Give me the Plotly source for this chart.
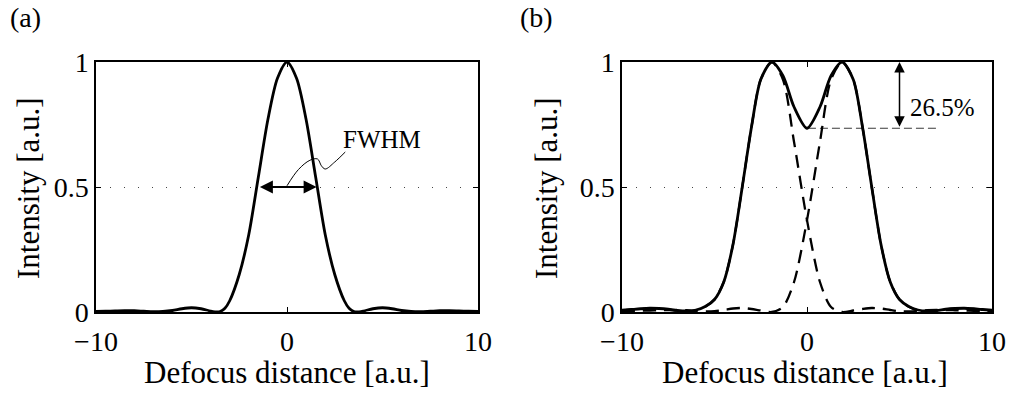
import plotly.graph_objects as go

# ---- (a) single focus: intensity vs defocus ----
PSF_X = [-10, -9.5, -9, -8.5, -8, -7.5, -7, -6.5, -6, -5.5, -5, -4.5, -4, -3.65, -3.5, -3.25,
         -3, -2.5, -2, -1.5, -1, -0.5, 0, 0.5, 1, 1.5, 2, 2.5, 3, 3.25, 3.5, 3.65,
         4, 4.5, 5, 5.5, 6, 6.5, 7, 7.5, 8, 8.5, 9, 9.5, 10]
PSF_Y = [0.002, 0.003, 0.004, 0.005, 0.005, 0.003, 0.001, 0.002, 0.006, 0.013, 0.017, 0.013, 0.004, 0.0, 0.002, 0.015,
         0.045, 0.15, 0.31, 0.54, 0.77, 0.935, 1.0, 0.935, 0.77, 0.54, 0.31, 0.15, 0.045, 0.015, 0.002, 0.0,
         0.004, 0.013, 0.017, 0.013, 0.006, 0.002, 0.001, 0.003, 0.005, 0.005, 0.004, 0.003, 0.002]

# FWHM marker (half-maximum crossing points) and leader line to its label
HALF_MAX = 0.5
FWHM_LEFT, FWHM_RIGHT = -1.5, 1.55
LEADER_X = [0.0, 0.6, 1.2, 1.6, 1.8, 2.0, 2.5, 3.05]
LEADER_Y = [0.505, 0.57, 0.607, 0.612, 0.585, 0.572, 0.6, 0.64]

# ---- (b) two foci: sum (solid) and individual contributions (dashed) ----
R_X = [-10, -9.5, -9, -8.5, -8, -7.5, -7, -6.5, -6, -5.5, -5, -4.5, -4, -3.5, -3, -2.5,
       -1.9, -1.3, -0.7, 0, 0.7, 1.3, 1.9, 2.5, 3, 3.5, 4, 4.5, 5, 5.5, 6, 6.5, 7,
       7.5, 8, 8.5, 9, 9.5, 10]
SUM_Y = [0.007, 0.010, 0.013, 0.015, 0.014, 0.011, 0.006, 0.004, 0.008, 0.022, 0.05, 0.12, 0.27, 0.50, 0.74, 0.93,
         1.0, 0.945, 0.82, 0.735, 0.82, 0.945, 1.0, 0.93, 0.74, 0.50, 0.27, 0.12, 0.05, 0.022, 0.008, 0.004, 0.006,
         0.011, 0.014, 0.015, 0.013, 0.010, 0.007]
LEFT_FOCUS_Y = [0.006, 0.009, 0.012, 0.014, 0.013, 0.010, 0.005, 0.003, 0.007, 0.021, 0.05, 0.12, 0.27, 0.50, 0.74, 0.93,
                1.0, 0.93, 0.68, 0.3675, 0.12, 0.02, 0.0, 0.006, 0.012, 0.016, 0.014, 0.008, 0.003, 0.002, 0.004, 0.007, 0.008,
                0.008, 0.007, 0.006, 0.005, 0.004, 0.003]
RIGHT_FOCUS_Y = [0.003, 0.004, 0.005, 0.006, 0.007, 0.008, 0.008, 0.007, 0.004, 0.002, 0.003, 0.008, 0.014, 0.016, 0.012, 0.006,
                 0.0, 0.02, 0.12, 0.3675, 0.68, 0.93, 1.0, 0.93, 0.74, 0.50, 0.27, 0.12, 0.05, 0.021, 0.007, 0.003, 0.005,
                 0.010, 0.013, 0.014, 0.012, 0.009, 0.006]

DIP_PERCENT = 26.5
DIP_LEVEL = 1 - DIP_PERCENT / 100
DIP_LINE_X = [0.05, 7.0]
DIP_ARROW_X = 5.0

FONT = "Liberation Serif"
W, H = 1010, 396


def px_x(p):
    return p / W


def px_y(p):
    return 1 - p / H


fig = go.Figure()

# panel (a)
fig.add_trace(go.Scatter(x=PSF_X, y=PSF_Y, mode="lines", line=dict(color="black", width=2.8, shape="spline", smoothing=0.8),
                         xaxis="x", yaxis="y", showlegend=False, hoverinfo="skip"))
fig.add_trace(go.Scatter(x=LEADER_X, y=LEADER_Y, mode="lines", line=dict(color="black", width=1, shape="spline"),
                         xaxis="x", yaxis="y", showlegend=False, hoverinfo="skip"))

# panel (b)
fig.add_trace(go.Scatter(x=DIP_LINE_X, y=[DIP_LEVEL, DIP_LEVEL], mode="lines",
                         line=dict(color="#3a3a3a", width=1.2, dash="8px,4px"),
                         xaxis="x2", yaxis="y2", showlegend=False, hoverinfo="skip"))
for ys in (LEFT_FOCUS_Y, RIGHT_FOCUS_Y):
    fig.add_trace(go.Scatter(x=R_X, y=ys, mode="lines",
                             line=dict(color="black", width=2.3, dash="13px,8px", shape="spline", smoothing=0.8),
                             xaxis="x2", yaxis="y2", showlegend=False, hoverinfo="skip"))
fig.add_trace(go.Scatter(x=R_X, y=SUM_Y, mode="lines", line=dict(color="black", width=2.8, shape="spline", smoothing=0.8),
                         xaxis="x2", yaxis="y2", showlegend=False, hoverinfo="skip"))

axis_common = dict(showline=True, linecolor="black", linewidth=1.5, mirror="ticks", ticks="inside",
                   ticklen=5, tickwidth=1, tickcolor="black", zeroline=False, automargin=False,
                   tickfont=dict(family=FONT, size=28, color="black"))

x_common = dict(axis_common, range=[-10, 10], tickvals=[-10, 0, 10], showgrid=False, ticklabelstandoff=4)
y_common = dict(axis_common, range=[0, 1], tickvals=[0, 0.5, 1], showgrid=True, gridcolor="#444",
                gridwidth=1, griddash="1px,13px", domain=[px_y(312), px_y(62)], ticklabelstandoff=0)

annotations = []
# FWHM double arrow and label
annotations.append(dict(x=FWHM_RIGHT, y=HALF_MAX, ax=FWHM_LEFT, ay=HALF_MAX, xref="x", yref="y", axref="x", ayref="y",
                        text="", showarrow=True, arrowhead=2, arrowsize=1.3, arrowwidth=2, arrowcolor="black",
                        arrowside="end+start", standoff=0, startstandoff=0))
annotations.append(dict(x=4.97, y=0.69, xref="x", yref="y", text="FWHM", showarrow=False,
                        xanchor="center", yanchor="middle", font=dict(family=FONT, size=25, color="black")))
# dip arrow and label
annotations.append(dict(x=DIP_ARROW_X, y=1.0, ax=DIP_ARROW_X, ay=DIP_LEVEL, xref="x2", yref="y2", axref="x2", ayref="y2",
                        text="", showarrow=True, arrowhead=2, arrowsize=1.4, arrowwidth=1.5, arrowcolor="black",
                        arrowside="end+start", standoff=0, startstandoff=0))
annotations.append(dict(x=7.35, y=0.82, xref="x2", yref="y2", text=f"{DIP_PERCENT}%", showarrow=False,
                        xanchor="center", yanchor="middle", font=dict(family=FONT, size=25, color="black")))

# axis titles and panel labels
for cx in (287, 805):
    annotations.append(dict(x=px_x(cx), y=px_y(372), xref="paper", yref="paper", text="Defocus distance [a.u.]",
                            xanchor="center", yanchor="middle", showarrow=False,
                            font=dict(family=FONT, size=31, color="black")))
for cx in (29, 547):
    annotations.append(dict(x=px_x(cx), y=px_y(188), xref="paper", yref="paper", text="Intensity [a.u.]",
                            xanchor="center", yanchor="middle", textangle=-90, showarrow=False,
                            font=dict(family=FONT, size=31, color="black")))
for cx, lab in ((25.5, "(a)"), (536.5, "(b)")):
    annotations.append(dict(x=px_x(cx), y=px_y(18), xref="paper", yref="paper", text=lab,
                            xanchor="center", yanchor="middle", showarrow=False,
                            font=dict(family=FONT, size=28, color="black")))

fig.update_layout(
    width=W, height=H, margin=dict(l=0, r=0, t=0, b=0, pad=0, autoexpand=False),
    paper_bgcolor="white", plot_bgcolor="white",
    xaxis=dict(x_common, domain=[px_x(96), px_x(478)], anchor="y"),
    yaxis=dict(y_common, anchor="x"),
    xaxis2=dict(x_common, domain=[px_x(622), px_x(992)], anchor="y2"),
    yaxis2=dict(y_common, anchor="x2"),
    annotations=annotations,
)

fig.write_html("out.html")
